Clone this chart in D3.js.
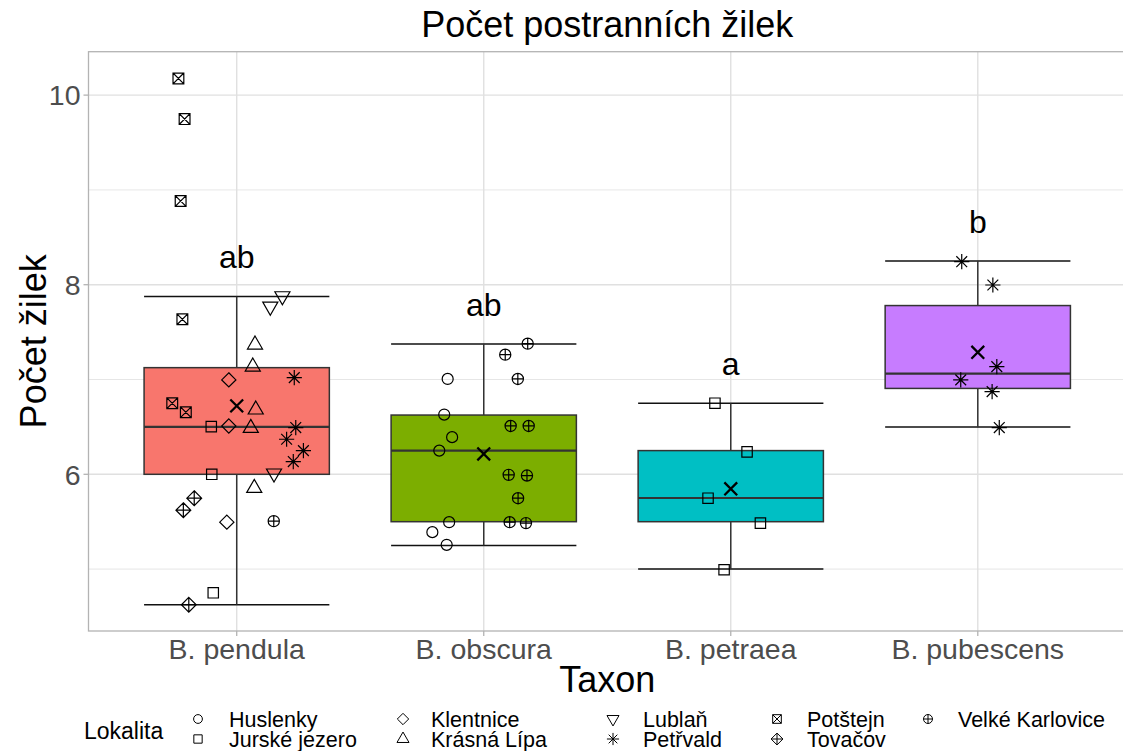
<!DOCTYPE html>
<html><head><meta charset="utf-8">
<script src="https://cdn.jsdelivr.net/npm/d3@7"></script>
<style>
body{margin:0;background:#fff}
svg{display:block}
text{font-family:"Liberation Sans",Arial,Helvetica,sans-serif}
</style>
</head><body>
<svg id="chart" width="1123" height="751"></svg>
<script>
// ---------- DATA ----------
const taxa = ["B. pendula", "B. obscura", "B. petraea", "B. pubescens"];
const fills = ["#F8766D", "#7CAE00", "#00BFC4", "#C77CFF"];
const q1 = [6.0, 5.5, 5.5, 6.906];
const medians = [6.5, 6.25, 5.75, 7.0625];
const q3 = [7.125, 6.625, 6.25, 7.78];
const whiskLow = [4.625, 5.25, 5.0, 6.5];
const whiskHigh = [7.875, 7.375, 6.75, 8.25];
const means = [6.722, 6.215, 5.847, 7.287];
const letters = ["ab", "ab", "a", "b"];
const yTicks = [6, 8, 10];
const yMinor = [5, 7, 9];

const localities = ["Huslenky", "Jurské jezero", "Klentnice", "Krásná Lípa", "Lublaň",
                    "Petřvald", "Potštejn", "Tovačov", "Velké Karlovice"];
const shapes = ["circle", "square", "diamond", "triUp", "triDown",
                "asterisk", "squareX", "diamondPlus", "circlePlus"];

// points: [taxon, horizontal jitter (category units), value]
const ptsHuslenky = [
  ["B. obscura", -0.146, 7.006], ["B. obscura", -0.160, 6.630], ["B. obscura", -0.128, 6.392],
  ["B. obscura", -0.180, 6.25], ["B. obscura", -0.140, 5.495], ["B. obscura", -0.208, 5.39],
  ["B. obscura", -0.150, 5.256]];
const ptsJurske = [
  ["B. pendula", -0.103, 6.503], ["B. pendula", -0.101, 6.0], ["B. pendula", -0.095, 4.75],
  ["B. petraea", -0.064, 6.75], ["B. petraea", 0.066, 6.237], ["B. petraea", -0.092, 5.748],
  ["B. petraea", 0.120, 5.485], ["B. petraea", -0.027, 4.993]];
const ptsKlentnice = [
  ["B. pendula", -0.032, 6.996], ["B. pendula", -0.032, 6.51], ["B. pendula", -0.040, 5.495]];
const ptsKrasna = [
  ["B. pendula", 0.074, 7.367], ["B. pendula", 0.065, 7.135], ["B. pendula", 0.077, 6.682],
  ["B. pendula", 0.057, 6.488], ["B. pendula", 0.071, 5.855]];
const ptsLublan = [
  ["B. pendula", 0.185, 7.88], ["B. pendula", 0.136, 7.77], ["B. pendula", 0.151, 6.01]];
const ptsPetrvald = [
  ["B. pendula", 0.233, 7.02], ["B. pendula", 0.239, 6.493], ["B. pendula", 0.202, 6.37],
  ["B. pendula", 0.270, 6.25], ["B. pendula", 0.229, 6.134],
  ["B. pubescens", -0.065, 8.243], ["B. pubescens", 0.061, 7.997], ["B. pubescens", 0.077, 7.136],
  ["B. pubescens", -0.069, 6.996], ["B. pubescens", 0.058, 6.872], ["B. pubescens", 0.087, 6.493]];
const ptsPotstejn = [
  ["B. pendula", -0.236, 10.176], ["B. pendula", -0.211, 9.747], ["B. pendula", -0.227, 8.883],
  ["B. pendula", -0.220, 7.635], ["B. pendula", -0.261, 6.75], ["B. pendula", -0.206, 6.655]];
const ptsTovacov = [
  ["B. pendula", -0.172, 5.748], ["B. pendula", -0.216, 5.622], ["B. pendula", -0.194, 4.624]];
const ptsVelke = [
  ["B. pendula", 0.150, 5.506],
  ["B. obscura", 0.178, 7.378], ["B. obscura", 0.087, 7.262], ["B. obscura", 0.138, 7.006],
  ["B. obscura", 0.109, 6.51], ["B. obscura", 0.182, 6.51], ["B. obscura", 0.101, 5.994],
  ["B. obscura", 0.175, 5.987], ["B. obscura", 0.139, 5.748], ["B. obscura", 0.105, 5.495],
  ["B. obscura", 0.171, 5.485]];
const pointSets = [ptsHuslenky, ptsJurske, ptsKlentnice, ptsKrasna, ptsLublan,
                   ptsPetrvald, ptsPotstejn, ptsTovacov, ptsVelke];

// ---------- LAYOUT ----------
const panel = {left: 88.5, right: 1126, top: 51.7, bottom: 631};
const svg = d3.select("#chart");

const x = d3.scaleBand().domain(taxa).range([panel.left, panel.right])
  .paddingInner(0).paddingOuter(0.1);
const bw = x.bandwidth();
const cx = t => x(t) + bw / 2;
const y = d3.scaleLinear().domain([4.347, 10.458]).range([panel.bottom, panel.top]);

// grid
const grid = svg.append("g");
grid.selectAll("line.minor").data(yMinor).join("line")
  .attr("x1", panel.left).attr("x2", panel.right)
  .attr("y1", d => y(d)).attr("y2", d => y(d))
  .attr("stroke", "#E3E3E3").attr("stroke-width", 0.9);
grid.selectAll("line.majy").data(yTicks).join("line")
  .attr("x1", panel.left).attr("x2", panel.right)
  .attr("y1", d => y(d)).attr("y2", d => y(d))
  .attr("stroke", "#E0E0E0").attr("stroke-width", 1.4);
grid.selectAll("line.majx").data(taxa).join("line")
  .attr("x1", d => cx(d)).attr("x2", d => cx(d))
  .attr("y1", panel.top).attr("y2", panel.bottom)
  .attr("stroke", "#E0E0E0").attr("stroke-width", 1.4);

// shapes
function shapeEls(g, shape, k, sw) {
  const add = d => g.append("path").attr("d", d).attr("fill", "none")
    .attr("stroke", "#000").attr("stroke-width", sw);
  const circ = r => `M${-r},0A${r},${r} 0 1,0 ${r},0A${r},${r} 0 1,0 ${-r},0Z`;
  const plus = a => `M${-a},0L${a},0M0,${-a}L0,${a}`;
  const cross = a => `M${-a},${-a}L${a},${a}M${-a},${a}L${a},${-a}`;
  const sq = a => `M${-a},${-a}L${a},${-a}L${a},${a}L${-a},${a}Z`;
  const dia = a => `M0,${-a}L${a},0L0,${a}L${-a},0Z`;
  switch (shape) {
    case "circle": add(circ(5.5 * k)); break;
    case "square": add(sq(5.2 * k)); break;
    case "diamond": add(dia(7.1 * k)); break;
    case "triUp": { const R = 8.7 * k;
      add(`M0,${-R}L${0.866 * R},${R / 2}L${-0.866 * R},${R / 2}Z`); break; }
    case "triDown": { const R = 8.7 * k;
      add(`M0,${R}L${0.866 * R},${-R / 2}L${-0.866 * R},${-R / 2}Z`); break; }
    case "asterisk": add(cross(5.4 * k) + plus(7.6 * k)); break;
    case "squareX": add(sq(5.4 * k) + cross(5.4 * k)); break;
    case "diamondPlus": add(dia(7.4 * k) + plus(7.4 * k)); break;
    case "circlePlus": add(circ(5.6 * k) + plus(5.6 * k)); break;
    case "x": add(cross(6.4 * k)); break;
  }
}

// error bars (black caps)
const eb = svg.append("g");
taxa.forEach((t, i) => {
  const c = cx(t), hw = bw * 0.75 / 2;
  [whiskHigh[i], whiskLow[i]].forEach(v => {
    eb.append("line").attr("x1", c - hw).attr("x2", c + hw)
      .attr("y1", y(v)).attr("y2", y(v))
      .attr("stroke", "#111").attr("stroke-width", 1.5);
  });
});

// boxes
const bx = svg.append("g");
taxa.forEach((t, i) => {
  const c = cx(t), hw = bw * 0.75 / 2;
  bx.append("line").attr("x1", c).attr("x2", c)
    .attr("y1", y(whiskHigh[i])).attr("y2", y(q3[i]))
    .attr("stroke", "#333").attr("stroke-width", 1.5);
  bx.append("line").attr("x1", c).attr("x2", c)
    .attr("y1", y(q1[i])).attr("y2", y(whiskLow[i]))
    .attr("stroke", "#333").attr("stroke-width", 1.5);
  bx.append("rect").attr("x", c - hw).attr("width", 2 * hw)
    .attr("y", y(q3[i])).attr("height", y(q1[i]) - y(q3[i]))
    .attr("fill", fills[i]).attr("stroke", "#333").attr("stroke-width", 1.5);
  bx.append("line").attr("x1", c - hw).attr("x2", c + hw)
    .attr("y1", y(medians[i])).attr("y2", y(medians[i]))
    .attr("stroke", "#333").attr("stroke-width", 2.2);
});

// points
const pg = svg.append("g");
pointSets.forEach((set, li) => {
  set.forEach(([t, dx, v]) => {
    const g = pg.append("g").attr("transform", `translate(${cx(t) + dx * bw},${y(v)})`);
    shapeEls(g, shapes[li], 1, 1.2);
  });
});

// means
taxa.forEach((t, i) => {
  const g = pg.append("g").attr("transform", `translate(${cx(t)},${y(means[i])})`);
  shapeEls(g, "x", 1, 2.3);
});

// letters
svg.append("g").selectAll("text").data(taxa).join("text")
  .attr("x", d => cx(d)).attr("y", (d, i) => y(whiskHigh[i] + 0.3))
  .attr("text-anchor", "middle").attr("font-size", 32).attr("fill", "#000")
  .text((d, i) => letters[i]);

// panel border
svg.append("rect").attr("x", panel.left).attr("y", panel.top)
  .attr("width", panel.right - panel.left).attr("height", panel.bottom - panel.top)
  .attr("fill", "none").attr("stroke", "#B3B3B3").attr("stroke-width", 1.3);

// y axis
const ya = svg.append("g");
ya.selectAll("line").data(yTicks).join("line")
  .attr("x1", panel.left - 5).attr("x2", panel.left)
  .attr("y1", d => y(d)).attr("y2", d => y(d))
  .attr("stroke", "#B3B3B3").attr("stroke-width", 1.3);
ya.selectAll("text").data(yTicks).join("text")
  .attr("x", panel.left - 8).attr("y", d => y(d)).attr("dy", "0.36em")
  .attr("text-anchor", "end").attr("font-size", 28.5).attr("fill", "#4D4D4D")
  .text(d => d);

// x axis
const xa = svg.append("g");
xa.selectAll("line").data(taxa).join("line")
  .attr("x1", d => cx(d)).attr("x2", d => cx(d))
  .attr("y1", panel.bottom).attr("y2", panel.bottom + 5)
  .attr("stroke", "#B3B3B3").attr("stroke-width", 1.3);
xa.selectAll("text").data(taxa).join("text")
  .attr("x", d => cx(d)).attr("y", panel.bottom + 27.7)
  .attr("text-anchor", "middle").attr("font-size", 28.5).attr("fill", "#4D4D4D")
  .text(d => d);

// titles
const pcx = (panel.left + panel.right) / 2;
svg.append("text").attr("x", pcx).attr("y", 37).attr("text-anchor", "middle")
  .attr("font-size", 36).attr("fill", "#000").text("Počet postranních žilek");
svg.append("text").attr("x", pcx).attr("y", 692).attr("text-anchor", "middle")
  .attr("font-size", 36).attr("fill", "#000").text("Taxon");
svg.append("text").attr("transform", `translate(46,${(panel.top + panel.bottom) / 2}) rotate(-90)`)
  .attr("text-anchor", "middle").attr("font-size", 36).attr("fill", "#000").text("Počet žilek");

// legend
const lg = svg.append("g");
lg.append("text").attr("x", 84).attr("y", 739).attr("font-size", 23).attr("fill", "#000")
  .text("Lokalita");
const keyX = [198, 403, 613, 777, 928];
const textX = [229, 431, 643, 807, 958];
const rowY = [719, 739];
localities.forEach((name, i) => {
  const col = Math.floor(i / 2), row = i % 2;
  const g = lg.append("g").attr("transform", `translate(${keyX[col]},${rowY[row]})`);
  shapeEls(g, shapes[i], 0.8, 1.0);
  lg.append("text").attr("x", textX[col]).attr("y", rowY[row]).attr("dy", "0.35em")
    .attr("font-size", 21.5).attr("fill", "#000").text(name);
});
</script>
</body></html>
